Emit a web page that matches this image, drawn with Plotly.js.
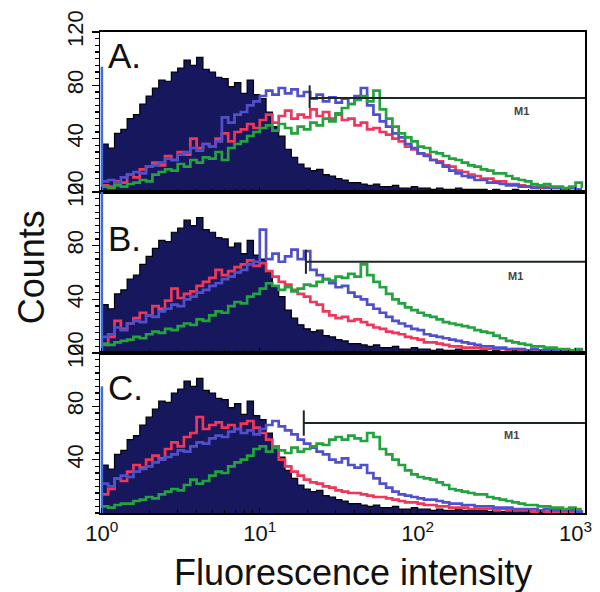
<!DOCTYPE html>
<html>
<head>
<meta charset="utf-8">
<script src="https://cdn.plot.ly/plotly-3.0.1.min.js"></script>
<style>html,body{margin:0;padding:0;background:#fff;}#chart{width:600px;height:592px;}</style>
</head>
<body>
<div id="chart"></div>
<script>
// Channel positions (fluorescence intensity, log-spaced bins)
const channels = [1, 1.096, 1.202, 1.318, 1.445, 1.585, 1.738, 1.905, 2.089, 2.291, 2.512, 2.754, 3.020, 3.311, 3.631, 3.981, 4.365, 4.786, 5.248, 5.754, 6.310, 6.918, 7.586, 8.318, 9.120,
  10, 10.96, 12.02, 13.18, 14.45, 15.85, 17.38, 19.05, 20.89, 22.91, 25.12, 27.54, 30.20, 33.11, 36.31, 39.81, 43.65, 47.86, 52.48, 57.54, 63.10, 69.18, 75.86, 83.18, 91.20,
  100, 109.6, 120.2, 131.8, 144.5, 158.5, 173.8, 190.5, 208.9, 229.1, 251.2, 275.4, 302.0, 331.1, 363.1, 398.1, 436.5, 478.6, 524.8, 575.4, 631.0, 691.8, 758.6, 831.8, 912.0,
  1000, 1096];

// Control histogram (navy, filled) – same in all panels
const control = [36,33,44,47,55,58,66,72,78,84,83,90,93,99,95,101,92,90,86,85,79,82,74,84,73,70,60,49,42,32,26,21,18,16,17,13,12,10,9,7,7,6,5,6,4,4,5,3,3,4,3,3,2,3,2,2,3,2,2,2,2,1,2,1,1,2,1,1,1,1,1,1,1,1,1,1,1];

// Panel A
const redA   = [5,4,8,7,13,11,17,19,22,20,27,24,30,28,40,33,36,34,40,44,38,45,47,51,48,54,58,52,57,61,55,58,56,62,57,60,55,58,54,55,50,52,47,48,45,43,40,38,34,32,29,28,24,23,20,19,16,15,13,12,10,10,8,8,6,6,5,4,4,3,4,3,3,2,3,2,2];
const blueA  = [8,9,7,11,13,15,14,19,20,22,25,24,28,30,33,31,36,34,38,56,52,58,60,65,68,72,76,73,78,74,77,72,75,70,73,68,71,67,70,66,72,78,65,58,53,49,44,41,36,33,29,27,24,22,19,16,14,12,11,9,9,7,7,6,5,5,4,4,3,4,3,3,3,2,3,2,2];
const greenA = [4,3,5,4,6,7,9,8,13,15,17,16,21,19,24,22,26,25,30,24,33,36,38,42,45,48,50,46,51,48,44,49,47,52,50,55,53,59,63,66,69,72,68,76,62,55,49,44,41,38,34,33,30,29,27,25,24,22,20,19,17,16,14,14,12,10,9,8,6,5,6,4,4,3,4,7,3];

// Panel B
const redB   = [6,12,24,18,22,26,30,28,35,33,39,48,41,44,46,50,53,56,62,58,61,64,66,69,65,67,61,57,53,51,47,44,42,38,36,31,28,26,27,24,25,23,21,19,18,16,15,14,12,11,10,8,8,7,6,5,5,4,4,4,3,3,3,3,2,3,2,2,2,2,2,1,2,1,1,2,1];
const blueB  = [12,14,19,17,22,24,23,28,27,31,33,36,35,40,42,45,47,50,52,55,57,60,62,66,68,92,70,74,68,72,77,70,76,62,58,55,52,49,50,45,42,40,36,33,30,27,24,22,20,18,17,14,13,12,11,10,9,8,7,6,5,5,4,4,3,3,3,2,3,2,2,2,2,2,1,2,2];
const greenB = [7,6,8,9,10,12,11,14,16,15,18,17,20,22,21,25,24,28,31,30,35,38,37,42,44,48,52,50,47,49,46,48,51,50,53,55,54,57,56,59,57,66,58,53,49,44,40,37,34,32,30,28,27,25,23,22,21,20,19,17,16,15,13,11,9,8,7,6,5,5,4,4,3,3,2,3,2];

// Panel C
const redC   = [14,18,26,24,31,36,34,40,43,41,48,53,50,57,60,72,63,66,68,64,66,63,67,69,64,60,55,50,40,35,31,28,25,23,22,20,19,17,16,15,15,14,13,12,12,11,10,9,8,8,7,6,6,5,5,4,4,4,3,3,3,3,2,3,2,2,2,2,1,2,1,1,1,1,1,1,1];
const blueC  = [22,20,26,28,27,31,33,35,38,40,42,44,47,46,50,53,52,56,58,57,61,63,60,62,59,63,66,69,65,62,59,55,52,49,46,44,40,38,41,36,34,36,30,26,22,19,16,14,13,12,11,10,10,9,8,7,7,6,6,5,5,5,4,4,4,3,3,3,3,2,3,2,2,2,2,1,2];
const greenC = [5,4,6,7,7,9,10,12,11,14,16,18,17,21,25,22,24,28,31,30,35,38,40,43,48,50,46,49,47,45,49,46,48,50,52,51,55,57,55,58,56,54,60,57,48,44,40,36,32,29,27,26,25,23,21,18,17,16,15,14,14,12,11,10,9,8,7,6,6,5,5,4,4,3,4,3,3];

// First-channel counts of the blue series (off-scale spike at the left edge)
const firstChannelBlue = [94, 130, 95];

// M1 gate markers
const gateStart = [20.7, 19.6, 19.0];
const gateEnd = 2000;
const gateLevel = [70.5, 68, 67.5];
const gateTickTop = [80, 77, 77];
const gateTickBottom = [63, 59, 58];

const panelLabels = ['A.', 'B.', 'C.'];
const yTickVals = [[0, 40, 80, 120], [0, 40, 80, 120], [40, 80, 120]];
const xTickVals = [1, 10, 100, 1000];
const xTickText = ['10<sup>0</sup>', '10<sup>1</sup>', '10<sup>2</sup>', '10<sup>3</sup>'];
const xMinorVals = [2,3,4,5,6,7,8,9,20,30,40,50,60,70,80,90,200,300,400,500,600,700,800,900];

const NAVY = '#17175e';
const RED = '#f0365a';
const BLUE = '#5050cc';
const GREEN = '#22a33e';
const SPIKE = '#3b6fe0';

const panels = [
  {red: redA, blue: blueA, green: greenA},
  {red: redB, blue: blueB, green: greenB},
  {red: redC, blue: blueC, green: greenC}
];

const traces = [];
panels.forEach((p, k) => {
  const xa = k === 0 ? 'x' : 'x' + (k + 1);
  const ya = k === 0 ? 'y' : 'y' + (k + 1);
  traces.push({x: channels, y: control, xaxis: xa, yaxis: ya, type: 'scatter', mode: 'lines',
    line: {shape: 'hv', color: '#000', width: 1.2}, fill: 'tozeroy', fillcolor: NAVY, hoverinfo: 'skip'});
  traces.push({x: channels, y: p.red, xaxis: xa, yaxis: ya, type: 'scatter', mode: 'lines',
    line: {shape: 'hv', color: RED, width: 2.7}});
  traces.push({x: channels, y: p.blue, xaxis: xa, yaxis: ya, type: 'scatter', mode: 'lines',
    line: {shape: 'hv', color: BLUE, width: 2.7}});
  traces.push({x: channels, y: p.green, xaxis: xa, yaxis: ya, type: 'scatter', mode: 'lines',
    line: {shape: 'hv', color: GREEN, width: 2.7}});
  traces.push({x: [channels[0], channels[0]], y: [0, firstChannelBlue[k]], xaxis: xa, yaxis: ya,
    type: 'scatter', mode: 'lines', line: {color: SPIKE, width: 2.5}});
  // M1 gate
  traces.push({x: [gateStart[k], gateEnd], y: [gateLevel[k], gateLevel[k]], xaxis: xa, yaxis: ya,
    type: 'scatter', mode: 'lines', line: {color: '#1c2626', width: 2}});
  traces.push({x: [gateStart[k], gateStart[k]], y: [gateTickBottom[k], gateTickTop[k]], xaxis: xa, yaxis: ya,
    type: 'scatter', mode: 'lines', line: {color: '#1c2626', width: 2}});
});

const FONT = 'Liberation Sans, Arial, Helvetica, sans-serif';
const domains = [[0.6674, 1], [0.3326, 0.6674], [0, 0.3326]];

const layout = {
  width: 600, height: 592,
  margin: {l: 100, r: 15, t: 32, b: 79, pad: 0},
  paper_bgcolor: '#fff', plot_bgcolor: '#fff',
  showlegend: false,
  font: {family: FONT, color: '#111'},
  annotations: []
};

for (let k = 0; k < 3; k++) {
  const xn = k === 0 ? 'xaxis' : 'xaxis' + (k + 1);
  const yn = k === 0 ? 'yaxis' : 'yaxis' + (k + 1);
  const yref = k === 0 ? 'y' : 'y' + (k + 1);
  const xref = k === 0 ? 'x' : 'x' + (k + 1);
  layout[xn] = {
    type: 'log', range: [-0.012, 3.06], anchor: yref, domain: [0, 1],
    showline: true, mirror: true, linecolor: '#000', linewidth: 2,
    showgrid: false, zeroline: false,
    ticks: 'inside', ticklen: 5, tickwidth: 1, tickcolor: '#000',
    tickmode: 'array', tickvals: xTickVals, ticktext: xTickText,
    showticklabels: k === 2,
    tickfont: {size: 22, family: FONT, color: '#111'},
    minor: {ticks: 'inside', ticklen: 3, tickcolor: '#000', tickmode: 'array', tickvals: xMinorVals, showgrid: false},
    fixedrange: true
  };
  layout[yn] = {
    range: [0, 120], domain: domains[k], anchor: xref,
    showline: true, mirror: true, linecolor: '#000', linewidth: 1.5,
    showgrid: false, zeroline: false,
    ticks: 'outside', ticklen: 7, tickwidth: 1.2, tickcolor: '#000',
    tickmode: 'array', tickvals: yTickVals[k],
    tickangle: -90,
    tickfont: {size: 22, family: FONT, color: '#111'},
    minor: {ticks: 'outside', ticklen: 4, dtick: 5, tickcolor: '#000', showgrid: false},
    fixedrange: true
  };
}

const labelY = [0.952, 0.571, 0.260];
const m1X = [0.870, 0.856, 0.849];
const m1Y = [0.836, 0.493, 0.162];
for (let k = 0; k < 3; k++) {
  layout.annotations.push({xref: 'paper', yref: 'paper', x: 0.012, y: labelY[k], xanchor: 'left', yanchor: 'middle',
    text: panelLabels[k], showarrow: false, font: {size: 35, family: FONT, color: '#111'}});
  layout.annotations.push({xref: 'paper', yref: 'paper', x: m1X[k], y: m1Y[k], xanchor: 'center', yanchor: 'middle',
    text: '<b>M1</b>', showarrow: false, font: {size: 11, family: FONT, color: '#444'}});
}
layout.annotations.push({xref: 'paper', yref: 'paper', x: -0.142, y: 0.511, xanchor: 'center', yanchor: 'middle',
  text: 'Counts', textangle: -90, showarrow: false, font: {size: 36, family: FONT, color: '#111'}});
layout.annotations.push({xref: 'paper', yref: 'paper', x: 0.522, y: -0.123, xanchor: 'center', yanchor: 'middle',
  text: 'Fluorescence intensity', showarrow: false, font: {size: 36, family: FONT, color: '#111'}});

Plotly.newPlot('chart', traces, layout, {staticPlot: true, displayModeBar: false});
</script>
</body>
</html>
